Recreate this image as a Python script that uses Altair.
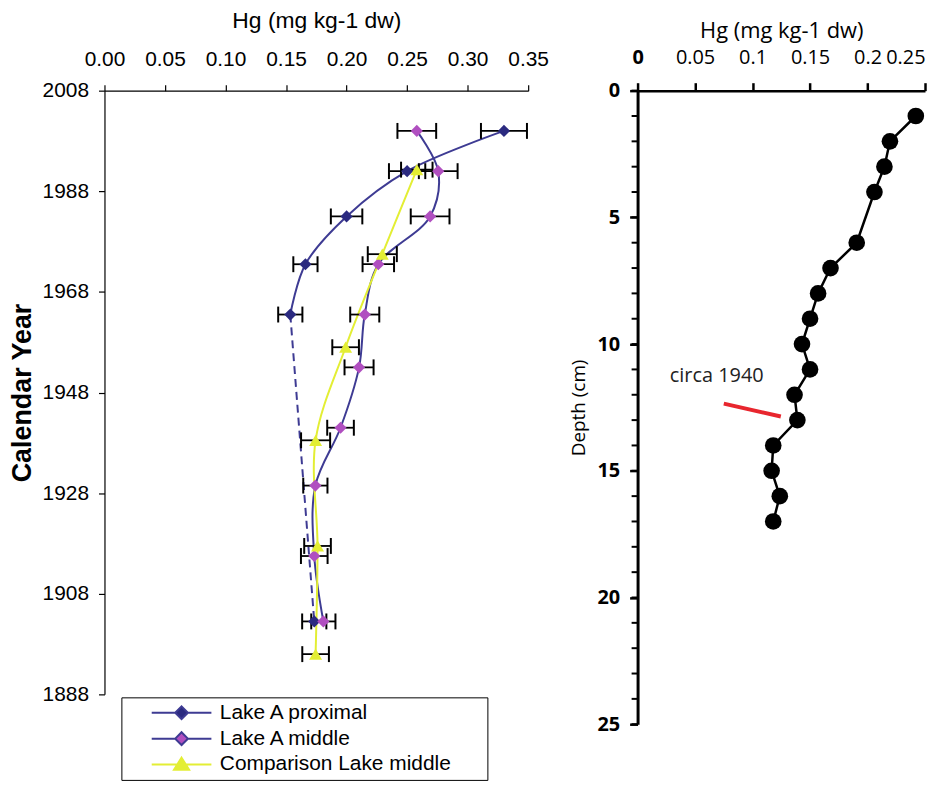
import altair as alt
import pandas as pd

# ---------------- Left panel: Hg vs calendar year ----------------
series_names = ["Lake A proximal", "Lake A middle", "Comparison Lake middle"]

prox_year = [2000, 1992, 1983, 1973.5, 1963.5, 1902.5]
prox_hg = [0.330, 0.250, 0.200, 0.166, 0.1535, 0.1733]
prox_err = [0.019, 0.015, 0.013, 0.010, 0.010, 0.010]
prox_solid_n = 5  # solid curve through the first five points, dashed to the last

mid_year = [2000, 1992, 1983, 1973.5, 1963.5, 1953, 1941, 1929.5, 1915.5, 1902.5]
mid_hg = [0.258, 0.2757, 0.269, 0.2262, 0.215, 0.2103, 0.195, 0.1742, 0.1733, 0.1808]
mid_err = [0.016, 0.016, 0.016, 0.013, 0.012, 0.012, 0.011, 0.010, 0.011, 0.010]

comp_year = [1992.3, 1975.5, 1957, 1938.5, 1917.5, 1896]
comp_hg = [0.258, 0.2295, 0.1992, 0.1744, 0.176, 0.1744]
comp_err = [0.013, 0.012, 0.011, 0.012, 0.011, 0.011]

x_ticks_left = [0, 0.05, 0.10, 0.15, 0.20, 0.25, 0.30, 0.35]
y_ticks_left = [1888, 1908, 1928, 1948, 1968, 1988, 2008]

# ---------------- Right panel: Hg vs depth ----------------
depth_cm = [1, 2, 3, 4, 6, 7, 8, 9, 10, 11, 12, 13, 14, 15, 16, 17]
depth_hg = [0.242, 0.2195, 0.2147, 0.206, 0.1906, 0.1678, 0.157, 0.150,
            0.143, 0.150, 0.1365, 0.139, 0.118, 0.1166, 0.1237, 0.118]
circa_label = "circa 1940"
circa_hg = [0.075, 0.1246]
circa_depth = [12.35, 12.86]
circa_text_hg = 0.028
circa_text_depth = 11.25
x_ticks_right = [0, 0.05, 0.10, 0.15, 0.20, 0.25]
y_ticks_right = [0, 5, 10, 15, 20, 25]
y_minor_right = list(range(0, 26))

# ---------------- styling ----------------
NAVY_DARK = "#2B2A80"
LINE_NAVY = "#3E3B93"
MAGENTA = "#B04FC0"
YELLOW = "#E3EE34"
RED = "#E8262E"
LF = "Liberation Sans"
RF = "Open Sans"

# ---------------- tables ----------------
rows = []
for name, ys, hs, es in [(series_names[0], prox_year, prox_hg, prox_err),
                         (series_names[1], mid_year, mid_hg, mid_err),
                         (series_names[2], comp_year, comp_hg, comp_err)]:
    for y, h, e in zip(ys, hs, es):
        rows.append({"series": name, "year": y, "hg": h, "lo": h - e, "hi": h + e})
pts = pd.DataFrame(rows)

line_rows = []
for i in range(prox_solid_n):
    line_rows.append({"series": series_names[0], "year": prox_year[i], "hg": prox_hg[i]})
for y, h in zip(mid_year, mid_hg):
    line_rows.append({"series": series_names[1], "year": y, "hg": h})
for y, h in zip(comp_year, comp_hg):
    line_rows.append({"series": series_names[2], "year": y, "hg": h})
lines_df = pd.DataFrame(line_rows)

dash_df = pd.DataFrame({"series": [series_names[0]] * 2,
                        "year": prox_year[prox_solid_n - 1:prox_solid_n + 1],
                        "hg": prox_hg[prox_solid_n - 1:prox_solid_n + 1]})

depth_df = pd.DataFrame({"depth": depth_cm, "hg": depth_hg})
minor_df = pd.DataFrame({"depth": y_minor_right})
circa_df = pd.DataFrame({"hg1": [circa_hg[0]], "hg2": [circa_hg[1]],
                         "d1": [circa_depth[0]], "d2": [circa_depth[1]]})
circa_txt_df = pd.DataFrame({"hg": [circa_text_hg], "depth": [circa_text_depth],
                             "label": [circa_label]})

# ---------------- left scales / axes ----------------
xs_left = alt.Scale(domain=[0, 0.35], nice=False, zero=False, padding=0)
ys_left = alt.Scale(domain=[1888, 2008], nice=False, zero=False, padding=0)

x_axis_left = alt.Axis(orient="top", values=x_ticks_left, format=".2f",
                       title="Hg (mg kg-1 dw)", titleFont=LF, titleFontSize=23,
                       titleFontWeight="normal", titleColor="black", titlePadding=15.5,
                       labelFont=LF, labelFontSize=21, labelColor="black",
                       labelPadding=15.5, labelFlush=False, labelOverlap=False,
                       tickSize=6, tickColor="black", tickWidth=1.2,
                       domainColor="black", domainWidth=1.2, grid=False)
y_axis_left = alt.Axis(values=y_ticks_left, format="d", title="Calendar Year",
                       titleFont=LF, titleFontSize=27, titleFontWeight="bold",
                       titleColor="black", titlePadding=6,
                       labelFont=LF, labelFontSize=21, labelColor="black",
                       labelPadding=10, labelFlush=False, labelOverlap=False,
                       tickSize=6, tickColor="black", tickWidth=1.2,
                       domainColor="black", domainWidth=1.2, grid=False)

X = alt.X("hg:Q", scale=xs_left, axis=x_axis_left)
Y = alt.Y("year:Q", scale=ys_left, axis=y_axis_left)
order = alt.Order("year:Q", sort="descending")

line_colors = [LINE_NAVY, LINE_NAVY, YELLOW]
marker_colors = [NAVY_DARK, MAGENTA, YELLOW]
marker_shapes = ["diamond", "diamond", "triangle-up"]
marker_sizes = [150, 150, 170]

line_layers = []
for name, col in zip(series_names, line_colors):
    line_layers.append(
        alt.Chart(lines_df).transform_filter(alt.FieldEqualPredicate(field="series", equal=name))
        .mark_line(strokeWidth=2, interpolate="catmull-rom", color=col)
        .encode(x=X, y=Y, order=order))

dashed = alt.Chart(dash_df).mark_line(strokeWidth=2, strokeDash=[8, 5], color=LINE_NAVY).encode(
    x=X, y=Y, order=order)

rules = alt.Chart(pts).mark_rule(color="black", strokeWidth=1.8).encode(
    x=alt.X("lo:Q", scale=xs_left, axis=x_axis_left), x2="hi:Q", y=Y)
cap_lo = alt.Chart(pts).mark_tick(orient="vertical", size=16, thickness=2, color="black", opacity=1).encode(
    x=alt.X("lo:Q", scale=xs_left, axis=x_axis_left), y=Y)
cap_hi = alt.Chart(pts).mark_tick(orient="vertical", size=16, thickness=2, color="black", opacity=1).encode(
    x=alt.X("hi:Q", scale=xs_left, axis=x_axis_left), y=Y)

marker_layers = []
for name, col, shp, sz in zip(series_names, marker_colors, marker_shapes, marker_sizes):
    marker_layers.append(
        alt.Chart(pts).transform_filter(alt.FieldEqualPredicate(field="series", equal=name))
        .mark_point(shape=shp, filled=True, size=sz, opacity=1, strokeWidth=0, color=col)
        .encode(x=X, y=Y))

# legend: symbols are a line with the marker on it
diamond_path = "M-3.75,0H-0.8M0.8,0H3.75M0,-0.8L0.8,0L0,0.8L-0.8,0Z"
triangle_path = "M-3.75,0H3.75M0,-0.85L0.95,0.65L-0.95,0.65Z"
stroke_scale = alt.Scale(domain=series_names, range=line_colors)
fill_scale = alt.Scale(domain=series_names, range=marker_colors)
shape_scale = alt.Scale(domain=series_names, range=[diamond_path, diamond_path, triangle_path])

leg = alt.Legend(orient="none", legendX=17, legendY=610, direction="vertical",
                 title=".", titleOrient="right", titleColor="white", titleFontSize=21,
                 titlePadding=26,
                 labelFont=LF, labelFontSize=21, labelColor="black", labelLimit=500,
                 symbolSize=256, symbolStrokeWidth=2, symbolOpacity=1,
                 symbolOffset=45, labelOffset=28, padding=5, rowPadding=4,
                 strokeColor="black", fillColor="white")

legend_layer = alt.Chart(pts).mark_point(filled=True, opacity=0).encode(
    x=X, y=Y,
    shape=alt.Shape("series:N", scale=shape_scale, legend=leg),
    fill=alt.Fill("series:N", scale=fill_scale, legend=leg),
    stroke=alt.Stroke("series:N", scale=stroke_scale, legend=leg))

left = alt.layer(*line_layers, dashed, rules, cap_lo, cap_hi, *marker_layers, legend_layer).properties(
    width=426, height=607)

# ---------------- right panel ----------------
xs_right = alt.Scale(domain=[0, 0.25], nice=False, zero=False, padding=0)
ys_right = alt.Scale(domain=[0, 25], reverse=True, nice=False, zero=False, padding=0)

x_axis_right = alt.Axis(orient="top", values=x_ticks_right,
                        labelExpr="datum.value == 0 ? '0' : format(datum.value, '.2~f')",
                        labelFontWeight={"condition": {"test": "datum.value == 0", "value": "bold"}, "value": "normal"},
                        labelAlign={"condition": {"test": "datum.value >= 0.25", "value": "right"}, "value": "center"},
                        title="Hg (mg kg-1 dw)", titleFont=RF, titleFontSize=22,
                        titleFontWeight="normal", titleColor="black", titlePadding=5.5,
                        labelFont=RF, labelFontSize=20, labelColor="black", labelPadding=15,
                        labelFlush=False, labelOverlap=False,
                        tickSize=8, tickColor="black", tickWidth=2.5,
                        domainColor="black", domainWidth=2.5, grid=False)
y_axis_right = alt.Axis(values=y_ticks_right, format="d", title="Depth (cm)",
                        titleFont=RF, titleFontSize=19, titleFontWeight="normal",
                        titleColor="black", titlePadding=8,
                        labelFont=RF, labelFontSize=20, labelFontWeight="bold",
                        labelColor="black", labelPadding=10, labelFlush=False,
                        labelOverlap=False, tickSize=8, tickColor="black", tickWidth=2.5,
                        domainColor="black", domainWidth=3, grid=False)

XR = alt.X("hg:Q", scale=xs_right, axis=x_axis_right)
YR = alt.Y("depth:Q", scale=ys_right, axis=y_axis_right)

r_minor = alt.Chart(minor_df).mark_tick(orient="horizontal", size=6, thickness=2,
                                         color="black", opacity=1, xOffset=-3).encode(
    x=alt.datum(0, scale=xs_right, axis=x_axis_right), y=YR)
r_line = alt.Chart(depth_df).mark_line(color="black", strokeWidth=2.5).encode(
    x=XR, y=YR, order=alt.Order("depth:Q"))
r_pts = alt.Chart(depth_df).mark_point(shape="circle", filled=True, size=280,
                                        color="black", opacity=1).encode(x=XR, y=YR)
r_circa = alt.Chart(circa_df).mark_rule(color=RED, strokeWidth=4).encode(
    x=alt.X("hg1:Q", scale=xs_right, axis=x_axis_right), x2="hg2:Q",
    y=alt.Y("d1:Q", scale=ys_right, axis=y_axis_right), y2="d2:Q")
r_text = alt.Chart(circa_txt_df).mark_text(align="left", baseline="middle", font=RF,
                                            fontSize=20, color="#222222").encode(
    x=XR, y=YR, text="label:N")

right = alt.layer(r_minor, r_line, r_pts, r_circa, r_text).properties(width=289, height=637)

chart = alt.hconcat(left, right, spacing=21).resolve_scale(
    fill="independent", stroke="independent", shape="independent"
).configure_view(stroke=None).properties(
    padding={"left": 0, "top": 0, "right": 0, "bottom": 0},
    background="white")

chart.save("out.html", embed_options={"renderer": "svg", "actions": False})
